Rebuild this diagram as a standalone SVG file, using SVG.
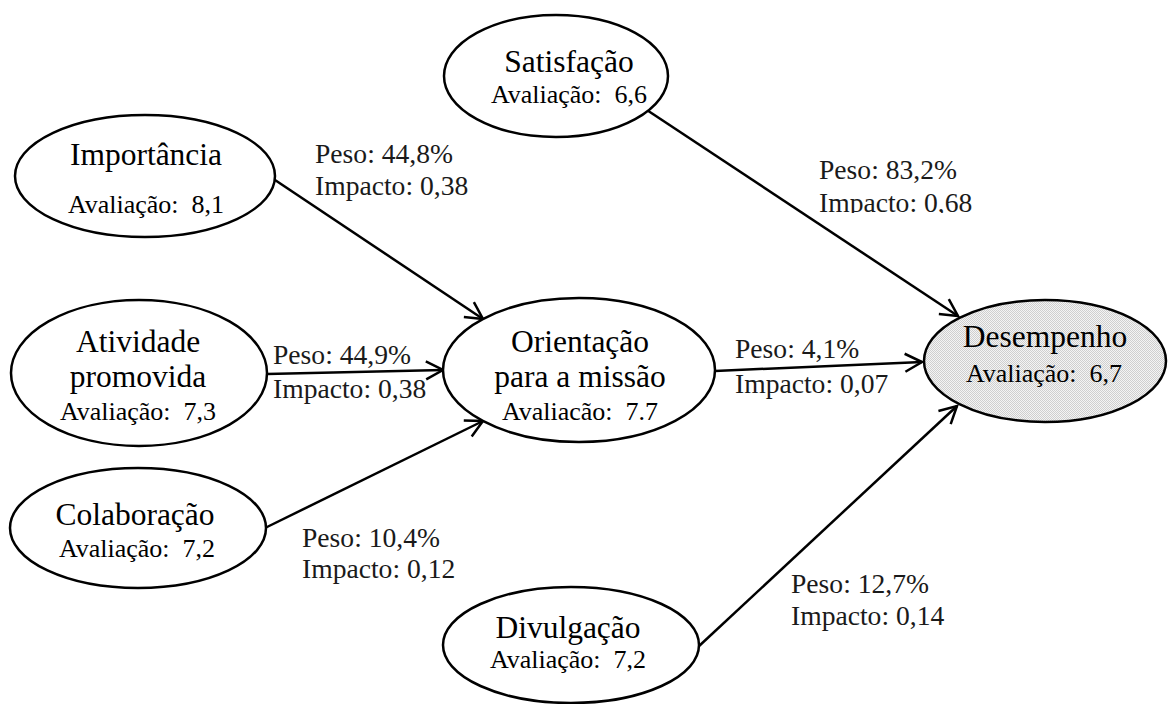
<svg xmlns="http://www.w3.org/2000/svg" width="1168" height="704" viewBox="0 0 1168 704">
  <style>
    .node { fill: #ffffff; stroke: #000000; stroke-width: 2.5; }
    .shaded { fill: url(#dither); }
    .title { font-family: "Liberation Serif", "Times New Roman", serif; font-size: 31.5px; fill: #000; text-anchor: middle; }
    .score { font-family: "Liberation Serif", "Times New Roman", serif; font-size: 26px; fill: #000; text-anchor: middle; white-space: pre; }
    .lbl { font-family: "Liberation Serif", "Times New Roman", serif; font-size: 27.6px; fill: #1a1a1a; }
    .edge { stroke: #000; stroke-width: 2.5; fill: none; marker-end: url(#arrow); }
  </style>
  <defs>
    <marker id="arrow" viewBox="-20 -12 22 24" refX="0" refY="0" markerWidth="22" markerHeight="24" markerUnits="userSpaceOnUse" orient="auto">
      <path d="M-17,-9 L0,0 L-17,9" fill="none" stroke="#000" stroke-width="2.5"/>
    </marker>
    <pattern id="dither" width="2" height="2" patternUnits="userSpaceOnUse">
      <rect width="2" height="2" fill="#f4f4f4"/>
      <rect width="1" height="1" fill="#cfcfcf"/>
      <rect x="1" y="1" width="1" height="1" fill="#cfcfcf"/>
    </pattern>
    <clipPath id="cut68">
      <rect x="780" y="150" width="220" height="63"/>
    </clipPath>
  </defs>

  <rect width="1168" height="704" fill="#ffffff"/>

  <g id="connectors">
    <line class="edge" x1="272" y1="178" x2="483" y2="319"/>
    <line class="edge" x1="267" y1="374" x2="443" y2="370"/>
    <line class="edge" x1="265" y1="528" x2="483" y2="421"/>
    <line class="edge" x1="715" y1="371" x2="922" y2="362"/>
    <line class="edge" x1="648" y1="110.7" x2="958" y2="316"/>
    <line class="edge" x1="698" y1="647" x2="957" y2="406"/>
  </g>

  <g id="edge-labels">
    <text class="lbl" x="315" y="163">Peso: 44,8%</text>
    <text class="lbl" x="315" y="195">Impacto: 0,38</text>
    <text class="lbl" x="273" y="364">Peso: 44,9%</text>
    <text class="lbl" x="273" y="398">Impacto: 0,38</text>
    <text class="lbl" x="302" y="547">Peso: 10,4%</text>
    <text class="lbl" x="302" y="578">Impacto: 0,12</text>
    <text class="lbl" x="819" y="179">Peso: 83,2%</text>
    <text class="lbl" x="819" y="212" clip-path="url(#cut68)">Impacto: 0,68</text>
    <text class="lbl" x="735" y="358">Peso: 4,1%</text>
    <text class="lbl" x="735" y="393">Impacto: 0,07</text>
    <text class="lbl" x="791" y="593">Peso: 12,7%</text>
    <text class="lbl" x="791" y="625">Impacto: 0,14</text>
  </g>

  <g id="importancia">
    <ellipse class="node" cx="145" cy="176" rx="130" ry="61"/>
    <text class="title" x="146" y="165">Importância</text>
    <text class="score" x="146" y="213">Avaliação:  8,1</text>
  </g>

  <g id="atividade">
    <ellipse class="node" cx="139" cy="373" rx="128" ry="73"/>
    <text class="title" x="138" y="352">Atividade</text>
    <text class="title" x="138" y="387">promovida</text>
    <text class="score" x="138" y="420">Avaliação:  7,3</text>
  </g>

  <g id="colaboracao">
    <ellipse class="node" cx="138" cy="528" rx="128" ry="60"/>
    <text class="title" x="135" y="525">Colaboração</text>
    <text class="score" x="137" y="557">Avaliação:  7,2</text>
  </g>

  <g id="satisfacao">
    <ellipse class="node" cx="556" cy="76" rx="112" ry="61"/>
    <text class="title" x="569" y="72">Satisfação</text>
    <text class="score" x="569" y="103">Avaliação:  6,6</text>
  </g>

  <g id="orientacao">
    <ellipse class="node" cx="579" cy="370" rx="136" ry="72"/>
    <text class="title" x="580" y="352">Orientação</text>
    <text class="title" x="580" y="387">para a missão</text>
    <text class="score" x="580" y="420">Avaliacão:  7.7</text>
  </g>

  <g id="desempenho">
    <ellipse class="node shaded" cx="1045" cy="361" rx="121" ry="61"/>
    <text class="title" x="1045" y="347">Desempenho</text>
    <text class="score" x="1044" y="382">Avaliação:  6,7</text>
  </g>

  <g id="divulgacao">
    <ellipse class="node" cx="571" cy="645" rx="128" ry="58"/>
    <text class="title" x="568" y="638">Divulgação</text>
    <text class="score" x="568" y="668">Avaliação:  7,2</text>
  </g>
</svg>
